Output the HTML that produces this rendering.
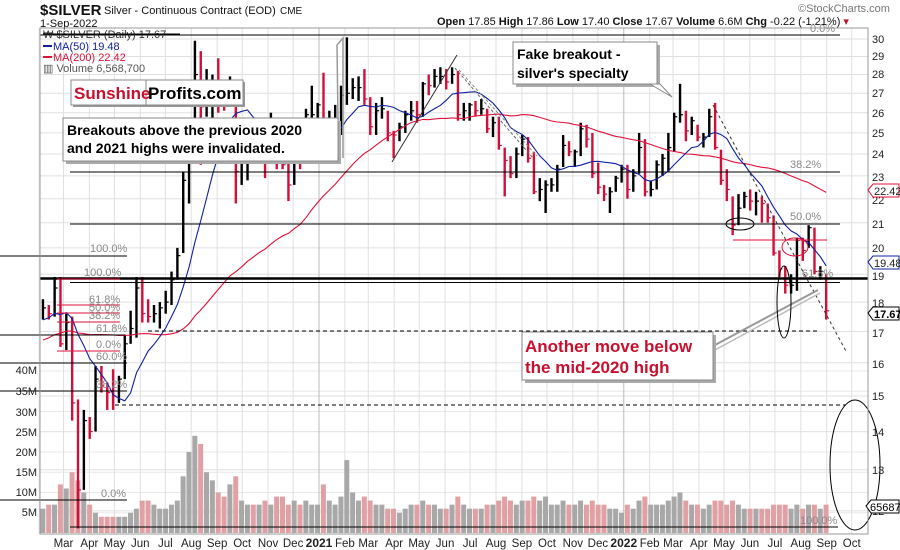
<!DOCTYPE html>
<html><head><meta charset="utf-8">
<style>
body{margin:0;background:#fff;position:relative;}
svg{display:block;font-family:"Liberation Sans",sans-serif;}
</style></head>
<body>
<svg id="chart" width="900" height="550" viewBox="0 0 900 550" xmlns="http://www.w3.org/2000/svg">
<rect x="0" y="0" width="900" height="550" fill="#fff"/>
<g id="grid"></g>
<g id="vol"></g>
<g id="price"></g>
<g id="ma"></g>
<g id="overlay"></g>
<g id="axes"></g>
</svg>
<script>
// ---- data (weekly, starting week of 3-Feb-2020) ----
const startDate = "2020-02-03";
const closes = [17.8,17.6,18.5,16.6,17.3,14.8,12.5,14.3,14.0,15.5,15.3,15.1,15.0,15.5,16.6,17.1,18.5,17.6,17.5,17.6,17.8,18.0,18.8,19.7,22.8,24.4,28.0,26.3,26.9,27.6,26.9,26.7,26.8,23.2,23.9,25.1,24.3,24.7,23.6,25.6,24.8,23.5,22.6,24.2,24.0,25.9,25.9,26.4,
25.3,25.4,25.6,26.9,27.0,27.3,27.3,26.7,25.3,26.1,26.2,25.0,24.9,25.3,25.9,26.1,25.9,27.5,27.4,27.9,27.9,27.6,28.0,25.9,26.1,26.4,26.1,26.2,25.2,25.5,24.4,23.7,23.1,24.0,24.7,23.8,22.3,22.4,22.6,22.6,23.3,24.4,24.1,24.1,25.2,24.7,23.1,22.5,22.2,22.3,22.9,23.3,
22.4,23.0,24.3,22.3,22.4,23.5,23.8,24.3,25.8,25.9,25.1,25.6,24.8,24.8,25.8,24.3,22.8,22.4,20.9,21.6,22.1,21.9,21.9,21.8,21.2,19.8,19.2,18.6,18.6,20.3,19.9,20.8,19.1,19.1,17.7];
const highs = [18.1,17.9,18.9,18.9,17.6,17.5,14.9,14.6,14.4,15.9,15.9,15.4,15.8,15.6,16.9,17.7,18.9,18.9,18.1,17.9,18.0,18.4,19.1,20.0,23.2,24.9,29.9,29.3,28.3,28.0,28.9,27.6,27.9,27.2,24.6,25.2,25.6,25.5,25.3,26.0,25.1,25.0,24.2,24.3,25.1,26.2,27.4,26.5,
28.1,26.1,26.4,27.4,30.1,27.8,27.9,28.3,26.8,26.5,26.8,26.1,25.1,25.5,26.1,26.6,26.6,27.6,28.0,28.3,28.4,28.3,28.4,28.2,26.5,26.5,26.6,26.7,26.2,25.8,25.8,24.3,23.9,24.3,24.9,24.8,24.1,22.9,22.8,22.9,23.5,24.9,24.6,24.2,25.5,25.4,25.0,23.6,22.6,22.5,23.0,23.5,
23.5,23.3,25.0,24.7,22.8,23.7,24.0,25.0,26.0,27.5,26.1,25.8,25.4,25.0,26.2,26.5,24.2,23.3,22.1,22.2,22.3,22.4,22.3,22.1,21.8,21.3,19.9,19.3,19.0,20.4,20.4,20.9,20.8,19.3,19.0];
const lows = [17.4,17.4,17.5,16.5,16.4,14.3,11.6,12.5,13.8,14.0,15.1,14.6,14.6,14.8,15.5,16.6,16.8,17.3,17.3,17.3,17.1,17.6,17.9,18.8,19.8,21.8,24.1,23.5,25.8,25.6,26.0,26.1,26.5,21.8,22.6,22.8,23.8,24.1,22.9,23.6,23.3,23.3,21.9,22.6,23.3,23.9,25.3,25.5,
24.1,24.8,24.9,24.9,26.4,26.7,26.6,26.4,24.9,24.9,25.7,24.6,23.8,24.6,25.0,25.6,25.5,25.8,26.9,27.3,27.5,27.2,27.5,25.6,25.6,25.6,25.8,25.9,25.0,24.8,24.2,22.1,22.9,22.9,23.9,23.6,22.2,21.9,21.4,22.3,22.3,23.4,23.9,23.4,23.9,24.3,22.9,22.2,21.9,21.4,22.3,22.7,
22.0,22.3,23.1,22.1,22.1,22.4,23.0,23.2,24.1,25.5,24.6,24.9,24.6,24.3,24.8,24.2,22.6,21.9,20.5,20.9,21.6,21.5,21.3,21.0,21.0,19.7,18.9,18.3,18.3,18.4,19.5,20.0,19.0,18.8,17.4];
const volumes = [6,7,7,12,11,15,13,10,7,5,4,4,4,4,4,5,6,8,8,7,6,6,7,8,14,20,24,22,15,13,10,9,12,14,8,7,7,7,8,7,9,9,7,8,7,8,7,7,
12,8,7,9,18,10,8,9,8,7,7,6,6,5,6,7,7,8,7,7,6,6,7,9,7,6,6,6,7,7,8,9,8,7,8,8,9,8,9,7,7,8,7,7,8,7,8,7,7,6,6,5,
7,6,8,9,7,7,7,8,9,10,8,7,7,6,7,8,8,7,8,7,6,6,6,6,6,7,7,7,6,7,6,7,7,6,7];
const priorCloses = [14.9,14.8,14.4,14.4,14.6,14.9,15.0,15.3,15.3,15.3,15.3,15.2,15.3,16.2,16.4,17.0,17.1,17.0,17.6,18.3,18.4,18.0,17.6,17.8,18.2,17.5,17.6,17.9,17.9,17.8,16.9,16.9,17.0,17.0,16.6,16.9,17.7,18.0,18.1,17.9];
const priceTicks = [30,29,28,27,26,25,24,23,22,21,20,19,18,17,16,15,14,13,12];
const volTicks = [5,10,15,20,25,30,35,40];
const monthLabels = ["Feb","Mar","Apr","May","Jun","Jul","Aug","Sep","Oct","Nov","Dec","2021","Feb","Mar","Apr","May","Jun","Jul","Aug","Sep","Oct","Nov","Dec","2022","Feb","Mar","Apr","May","Jun","Jul","Aug","Sep","Oct"];

// ---- scales ----
const NS="http://www.w3.org/2000/svg";
const PLOT_L=40, PLOT_R=868, PLOT_T=28, PLOT_B=534;
const ref=Date.UTC(2021,0,1);
function xDate(ms){return 319+((ms-ref)/86400000)*0.835;}
const start=Date.parse(startDate+"T00:00:00Z");
function xWeek(i){return xDate(start+i*7*86400000)+2;}
function yP(p){return 396-515*Math.log(p/15);}
function yV(v){return 533-v*4.05;}
function el(tag,attrs,parent,text){const e=document.createElementNS(NS,tag);for(const k in attrs)e.setAttribute(k,attrs[k]);if(text!==undefined)e.textContent=text;(parent||document.getElementById('overlay')).appendChild(e);return e;}

// ---- grid ----
const grid=document.getElementById('grid');
priceTicks.forEach(p=>{
  const g=el('line',{x1:PLOT_L,x2:PLOT_R,y1:yP(p),y2:yP(p),stroke:'#e0e0e0','stroke-width':1},grid);
  
  
});
volTicks.forEach(v=>{
  const g=el('line',{x1:PLOT_L,x2:PLOT_R,y1:yV(v),y2:yV(v),stroke:'#e8e8e8','stroke-width':1},grid);
  
  
});
const axes=document.getElementById('axes');
monthLabels.forEach((m,i)=>{
  const x=xDate(Date.UTC(2020,1+i,1));
  const isYear=(m==="2021"||m==="2022");
  const g=el('line',{x1:x,x2:x,y1:PLOT_T,y2:PLOT_B,stroke:isYear?'#bbb':'#e0e0e0','stroke-width':1},grid);
  
  
  if(x>55&&x<PLOT_R){
    const t=el('text',{x:x,y:547,'text-anchor':'middle','font-size':isYear?12:11.5,'font-weight':isYear?'bold':'normal',fill:'#222'},axes,m);
    
    
  }
});

// ---- volume ----
const vol=document.getElementById('vol');
volumes.forEach((v,i)=>{
  const down=i>0&&closes[i]<closes[i-1];
  const r=el('rect',{x:xWeek(i)-2.6,y:yV(v),width:5,height:533-yV(v),fill:down?'#e0a0a4':'#a8a8a8'},vol);
  
  
});

// ---- price bars ----
const pg=document.getElementById('price');
closes.forEach((c,i)=>{
  const down=i>0&&c<closes[i-1];
  const col=down?'#d0103a':'#000';
  const x=xWeek(i);
  const r=el('rect',{x:x-1.2,y:yP(highs[i]),width:2.4,height:Math.max(1,yP(lows[i])-yP(highs[i])),fill:col},pg);
  
  
  const t=el('line',{x1:x,x2:x+3,y1:yP(c),y2:yP(c),stroke:col,'stroke-width':1.2},pg);
  
  
});

// ---- moving averages ----
const all=priorCloses.concat(closes);
function maPath(n){
  let d="";
  closes.forEach((c,i)=>{
    const j=i+priorCloses.length;
    const s=all.slice(Math.max(0,j-n+1),j+1);
    const a=s.reduce((p,q)=>p+q,0)/s.length;
    d+=(i?"L":"M")+xWeek(i).toFixed(1)+","+yP(a).toFixed(1);
  });
  return d;
}
const mag=document.getElementById('ma');
const m200=el('path',{d:maPath(40),fill:'none',stroke:'#e0103a','stroke-width':1.1},mag);


const m50=el('path',{d:maPath(10),fill:'none',stroke:'#1020a0','stroke-width':1.1},mag);


</script>

<svg width="900" height="550" style="position:absolute;left:0;top:0;font-family:'Liberation Sans',sans-serif" xmlns="http://www.w3.org/2000/svg">
<g stroke="#000" fill="none">
  <line x1="40" x2="840" y1="35" y2="35"/>
  <line x1="70" x2="840" y1="172" y2="172"/>
  <line x1="70" x2="840" y1="224" y2="224"/>
  <line x1="0" x2="127" y1="256" y2="256"/>
  <line x1="40" x2="868" y1="278.5" y2="278.5" stroke-width="2.5"/>
  <line x1="70" x2="840" y1="282.5" y2="282.5"/>
  <line x1="0" x2="125" y1="335" y2="335"/>
  <line x1="148" x2="818" y1="331" y2="331" stroke-dasharray="4,3"/>
  <line x1="0" x2="127" y1="363" y2="363"/>
  <line x1="0" x2="127" y1="391" y2="391"/>
  <line x1="115" x2="845" y1="405" y2="405" stroke-dasharray="4,3"/>
  <line x1="0" x2="127" y1="500" y2="500"/>
  <line x1="70" x2="838" y1="527" y2="527"/>
</g>
<g stroke="#e0103a" fill="none">
  <line x1="57" x2="120" y1="279" y2="279"/>
  <line x1="57" x2="120" y1="305" y2="305"/>
  <line x1="57" x2="120" y1="313" y2="313"/>
  <line x1="57" x2="120" y1="322" y2="322"/>
  <line x1="57" x2="120" y1="351" y2="351"/>
  <line x1="733" x2="827" y1="240" y2="240"/>
</g>
<g fill="#888" font-size="11">
  <text x="810" y="32">0.0%</text>
  <text x="790" y="168">38.2%</text>
  <text x="790" y="220">50.0%</text>
  <text x="802" y="277">61.8%</text>
  <text x="90" y="252">100.0%</text>
  <text x="84" y="276">100.0%</text>
  <text x="89" y="303">61.8%</text>
  <text x="89" y="311">50.0%</text>
  <text x="89" y="319">38.2%</text>
  <text x="96" y="332">61.8%</text>
  <text x="96" y="348">0.0%</text>
  <text x="96" y="360">60.0%</text>
  <text x="96" y="388">38.2%</text>
  <text x="101" y="497">0.0%</text>
  <text x="800" y="524">100.0%</text>
</g>
<g fill="none">
  <line x1="713" y1="105" x2="847" y2="353" stroke="#333" stroke-dasharray="3,3"/>
  <line x1="455" y1="68" x2="533" y2="158" stroke="#666" stroke-dasharray="3,2"/>
  <line x1="459" y1="70" x2="537" y2="156" stroke="#888" stroke-dasharray="3,2"/>
  <line x1="392" y1="162" x2="457" y2="55" stroke="#333"/>
  <line x1="715" y1="345" x2="818" y2="290" stroke="#999" stroke-width="2"/>
  <line x1="715" y1="350" x2="820" y2="293" stroke="#bbb" stroke-width="1.5"/>
  <polyline points="338,120 337,45 343,38 343,158" stroke="#999" stroke-width="1.5"/>
</g>
<g fill="none">
  <ellipse cx="740" cy="224" rx="14" ry="6" stroke="#000"/>
  <ellipse cx="795" cy="247" rx="13" ry="9" stroke="#e0103a"/>
  <ellipse cx="784" cy="302" rx="7" ry="36" stroke="#000"/>
  <ellipse cx="855" cy="465" rx="25" ry="65" stroke="#000"/>
</g>

<g>
  <rect x="73" y="82" width="172" height="25" fill="#999"/>
  <rect x="71" y="80" width="172" height="25" fill="#fff" stroke="#888"/>
  <line x1="146" y1="80" x2="146" y2="105" stroke="#888"/>
  <text x="74" y="99" font-size="17" font-weight="bold" fill="#c8102e">Sunshine</text>
  <text x="148" y="99" font-size="17" font-weight="bold" fill="#000">Profits.com</text>
</g>
<g>
  <rect x="66" y="121" width="275" height="43" fill="#aaa"/>
  <rect x="63" y="118" width="275" height="43" fill="#fff" stroke="#888"/>
  <text x="67" y="135" font-size="14" font-weight="bold" fill="#000">Breakouts above the previous 2020</text>
  <text x="67" y="153" font-size="14" font-weight="bold" fill="#000">and 2021 highs were invalidated.</text>
</g>
<g>
  <rect x="516" y="45" width="144" height="42" fill="#aaa"/>
  <polygon points="650,84 672,97 660,84" fill="#fff" stroke="#888"/>
  <rect x="513" y="42" width="144" height="42" fill="#fff" stroke="#888"/>
  <text x="517" y="59" font-size="14" font-weight="bold" fill="#000">Fake breakout -</text>
  <text x="517" y="78" font-size="14" font-weight="bold" fill="#000">silver's specialty</text>
</g>
<g>
  <rect x="525" y="335" width="191" height="48" fill="#aaa"/>
  <rect x="522" y="332" width="191" height="48" fill="#fff" stroke="#888"/>
  <text x="525" y="352" font-size="17" font-weight="bold" fill="#c8102e">Another move below</text>
  <text x="525" y="373" font-size="17" font-weight="bold" fill="#c8102e">the mid-2020 high</text>
</g>

<g font-size="11">
  <text x="43" y="38" fill="#333">₩ $SILVER (Daily) 17.67</text>
  <line x1="43" x2="180" y1="34" y2="34" stroke="#000"/>
  <line x1="43" x2="52" y1="46" y2="46" stroke="#1020a0" stroke-width="2"/>
  <text x="53" y="50" fill="#1020a0">MA(50) 19.48</text>
  <line x1="43" x2="52" y1="57" y2="57" stroke="#e0103a" stroke-width="2"/>
  <text x="53" y="61" fill="#e0103a">MA(200) 22.42</text>
  <text x="43" y="72" fill="#555">▥ Volume 6,568,700</text>
</g>

<g>
  <text x="40" y="15" font-size="15" font-weight="bold" fill="#111">$SILVER</text>
  <text x="104" y="14" font-size="11" fill="#111">Silver - Continuous Contract (EOD)</text>
  <text x="280" y="14" font-size="10" fill="#111">CME</text>
  <text x="40" y="27" font-size="11" fill="#111">1-Sep-2022</text>
  <text x="798" y="12" font-size="11" fill="#777">©StockCharts.com</text>
  <text x="437" y="25" font-size="11" fill="#111"><tspan font-weight="bold">Open</tspan> 17.85 <tspan font-weight="bold">High</tspan> 17.86 <tspan font-weight="bold">Low</tspan> 17.40 <tspan font-weight="bold">Close</tspan> 17.67 <tspan font-weight="bold">Volume</tspan> 6.6M <tspan font-weight="bold">Chg</tspan> -0.22 (-1.21%) <tspan fill="#c8102e">▾</tspan></text>
</g>

<g fill="none" stroke="#999">
  <rect x="40" y="28" width="828" height="506"/>
</g>
<g font-size="11" fill="#222">
  <text x="872" y="43">30</text><text x="872" y="60">29</text><text x="872" y="78">28</text>
  <text x="872" y="97">27</text><text x="872" y="117">26</text><text x="872" y="137">25</text>
  <text x="872" y="158">24</text><text x="872" y="181">23</text><text x="872" y="204">22</text>
  <text x="872" y="228">21</text><text x="872" y="252">20</text><text x="872" y="280">19</text>
  <text x="872" y="307">18</text><text x="872" y="337">17</text><text x="872" y="368">16</text>
  <text x="872" y="400">15</text><text x="872" y="436">14</text><text x="872" y="474">13</text>
  <text x="872" y="515">12</text>
</g>
<g font-size="11" fill="#222" text-anchor="end">
  <text x="37" y="374">40M</text><text x="37" y="395">35M</text><text x="37" y="416">30M</text>
  <text x="37" y="436">25M</text><text x="37" y="456">20M</text><text x="37" y="476">15M</text>
  <text x="37" y="496">10M</text><text x="37" y="516">5M</text>
</g>
<g font-size="11">
  <polygon points="868,190 873,184 899,184 899,197 873,197" fill="#fff" stroke="#e0103a"/>
  <text x="874" y="195" fill="#222">22.42</text>
  <polygon points="868,262 873,256 899,256 899,269 873,269" fill="#fff" stroke="#1020a0"/>
  <text x="874" y="267" fill="#222">19.48</text>
  <polygon points="868,313 873,307 899,307 899,320 873,320" fill="#fff" stroke="#000"/>
  <text x="874" y="318" fill="#000" font-weight="bold">17.67</text>
  <polygon points="866,506 871,500 899,500 899,513 871,513" fill="#fff" stroke="#000"/>
  <text x="870" y="511" fill="#000">65687</text>
</g>
</svg>
</body></html>
